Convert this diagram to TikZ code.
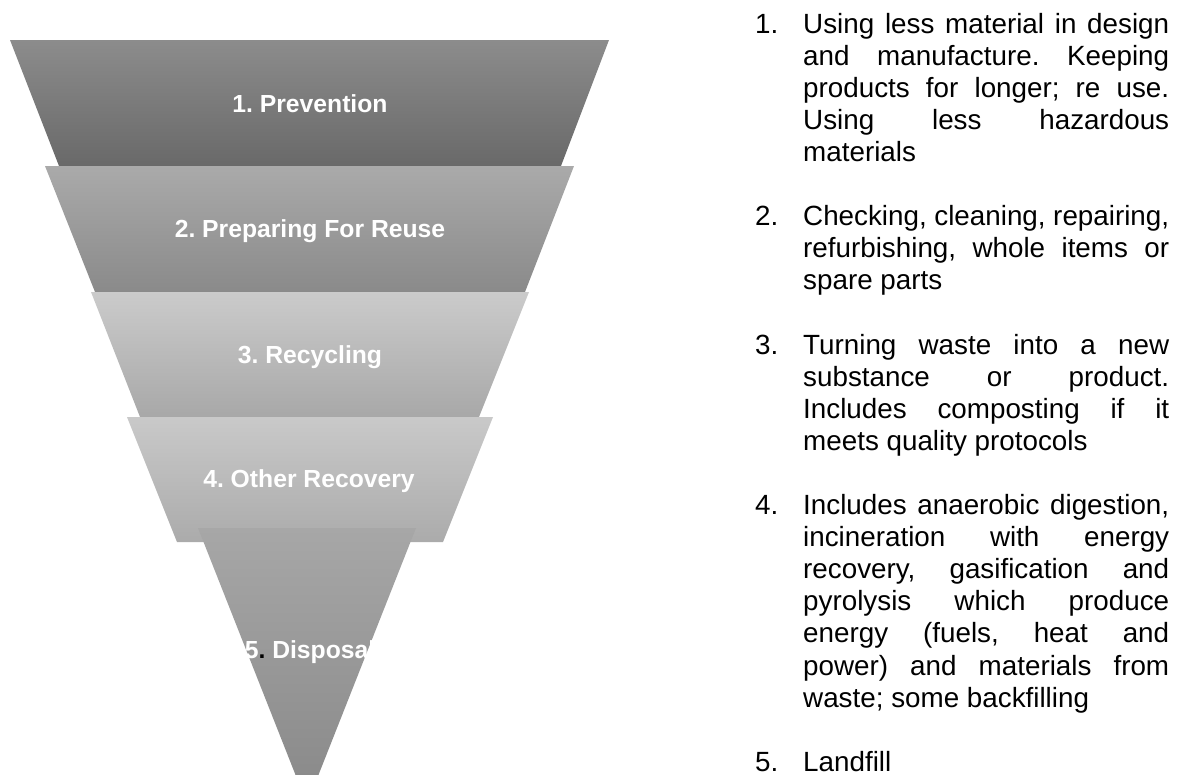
\documentclass[tikz,border=0pt]{standalone}
\usepackage{fontspec}
\setmainfont[Ligatures=NoCommon]{Liberation Sans}
\newfontfamily\tierfont[Ligatures=NoCommon]{Liberation Sans}
\frenchspacing
\newcommand\tierlabel{\tierfont\bfseries\fontsize{24.7}{28}\selectfont}
\newcommand\desctext{\fontsize{27.8}{32.1}\selectfont}
% one description line, stretched to the full column width
\newcommand\fullline[3]{\node[desc] (#1) at (803,#2) {\makebox[366pt][s]{#3}};}
% last line of a paragraph, set at its natural width
\newcommand\lastline[3]{\node[desc] (#1) at (803,#2) {#3};}
\newcommand\itemno[3]{\node[desc] (#1) at (755,#2) {#3};}

\definecolor{tA1}{HTML}{8C8C8C}\definecolor{tA2}{HTML}{696969}
\definecolor{tB1}{HTML}{AAAAAA}\definecolor{tB2}{HTML}{8A8A8A}
\definecolor{tC1}{HTML}{CBCBCB}\definecolor{tC2}{HTML}{A8A8A8}
\definecolor{tD1}{HTML}{C9C9C9}\definecolor{tD2}{HTML}{ABABAB}
\definecolor{tE1}{HTML}{A7A7A7}\definecolor{tE2}{HTML}{888888}

\tikzset{
  lbl/.style={anchor=base, inner sep=0pt, text=white, font=\tierlabel},
  desc/.style={anchor=base west, inner sep=0pt, text=black, font=\desctext},
}

\begin{document}
\begin{tikzpicture}[x=1pt,y=-1pt]
\useasboundingbox (0,0) rectangle (1180,774);

% the five tiers of the inverted pyramid
\begin{scope}
\clip (0,0) rectangle (1180,774);
\shade[top color=tA1, bottom color=tA2] (10,40) -- (609,40) -- (561,166) -- (59,166) -- cycle;
\shade[top color=tB1, bottom color=tB2] (45,166) -- (574,166) -- (525,292) -- (95,292) -- cycle;
\shade[top color=tC1, bottom color=tC2] (91,292) -- (529,292) -- (479,417) -- (140,417) -- cycle;
\shade[top color=tD1, bottom color=tD2] (127,417) -- (493,417) -- (443,542) -- (177,542) -- cycle;
\shade[top color=tE1, bottom color=tE2] (198,528) -- (416,528) -- (307,804) -- cycle;
\end{scope}

% tier labels
\node[lbl] (l1) at (310,112) {1. Prevention};
\node[lbl] (l2) at (310,237) {2. Preparing For Reuse};
\node[lbl] (l3) at (310,363) {3. Recycling};
\node[lbl] (l4) at (309,487) {4. Other Recovery};
\node[lbl] (l5) at (310,658) {5{\color{black}.} Disposal};

% descriptions
\itemno{n1}{33}{1.}
\fullline{d1a}{33}{Using less material in design}
\fullline{d1b}{65.1}{and manufacture. Keeping}
\fullline{d1c}{97.2}{products for longer; re use.}
\fullline{d1d}{129.3}{Using less hazardous}
\lastline{d1e}{161.4}{materials}

\itemno{n2}{225.6}{2.}
\fullline{d2a}{225.6}{Checking, cleaning, repairing,}
\fullline{d2b}{257.7}{refurbishing, whole items or}
\lastline{d2c}{289.8}{spare parts}

\itemno{n3}{354}{3.}
\fullline{d3a}{354}{Turning waste into a new}
\fullline{d3b}{386.1}{substance or product.}
\fullline{d3c}{418.2}{Includes composting if it}
\lastline{d3d}{450.3}{meets quality protocols}

\itemno{n4}{514.5}{4.}
\fullline{d4a}{514.5}{Includes anaerobic digestion,}
\fullline{d4b}{546.6}{incineration with energy}
\fullline{d4c}{578.7}{recovery, gasification and}
\fullline{d4d}{610.8}{pyrolysis which produce}
\fullline{d4e}{642.9}{energy (fuels, heat and}
\fullline{d4f}{675}{power) and materials from}
\lastline{d4g}{707.1}{waste; some backfilling}

\itemno{n5}{771}{5.}
\lastline{d5a}{771}{Landfill}
\end{tikzpicture}
\end{document}
